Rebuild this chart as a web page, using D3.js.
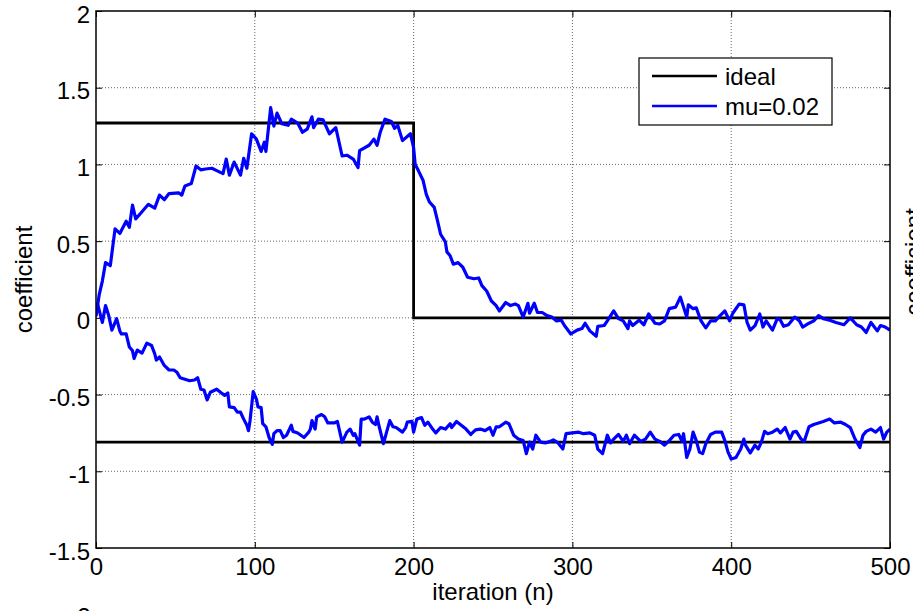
<!DOCTYPE html>
<html>
<head>
<meta charset="utf-8">
<script src="https://cdn.jsdelivr.net/npm/d3@7"></script>
<style>
  body { margin: 0; background: #fff; }
  text { font-family: "Liberation Sans", Arial, sans-serif; fill: #000; }
</style>
</head>
<body>
<div id="chart"></div>
<script>
// axis ticks
var xTicks = [0, 100, 200, 300, 400, 500];
var yTicks = [-1.5, -1, -0.5, 0, 0.5, 1, 1.5, 2];

// ideal coefficients (step at n = 200)
var idealN = [0, 200, 200, 500];
var idealW1 = [1.27, 1.27, 0, 0];
var idealW2 = [-0.81, -0.81, -0.81, -0.81];

// adaptive estimate, mu = 0.02  ([iteration, value])
var estW1 = [[0,0.01],[2,0.15],[4,0.24],[6,0.36],[9,0.34],[12,0.58],[15,0.55],[19,0.63],[21,0.59],[23,0.735],[25,0.645],[28,0.68],[33,0.74],[37,0.715],[40,0.80],[43,0.77],[46,0.81],[52,0.815],[54,0.80],[56,0.86],[60,0.875],[63,0.99],[66,0.965],[69,0.97],[73,0.975],[76,0.96],[80,0.94],[82,1.035],[84,0.93],[87,1.015],[91,0.93],[93,1.04],[95,0.975],[98,1.20],[101,1.165],[104,1.085],[106,1.145],[107,1.085],[110,1.37],[112,1.25],[114,1.335],[117,1.265],[121,1.255],[123,1.295],[127,1.27],[130,1.21],[133,1.23],[136,1.31],[137,1.24],[140,1.295],[143,1.29],[147,1.20],[151,1.24],[155,1.055],[158,1.06],[162,1.035],[165,0.98],[166,1.09],[172,1.125],[175,1.165],[177,1.125],[179,1.21],[182,1.295],[186,1.28],[188,1.235],[190,1.255],[193,1.155],[198,1.20],[200,1.11],[201,1.00],[203,0.96],[206,0.895],[208,0.805],[210,0.755],[213,0.72],[215,0.635],[217,0.545],[220,0.495],[221,0.43],[223,0.405],[225,0.35],[228,0.36],[231,0.33],[234,0.265],[238,0.255],[241,0.26],[243,0.21],[246,0.175],[249,0.11],[252,0.08],[254,0.045],[258,0.10],[261,0.08],[264,0.09],[266,0.08],[269,0.005],[272,0.095],[273,0.03],[276,0.095],[278,0.035],[281,0.035],[284,0.015],[287,0.005],[290,-0.02],[293,-0.015],[295,-0.05],[299,-0.105],[303,-0.08],[306,-0.07],[308,-0.035],[311,-0.085],[315,-0.12],[316,-0.055],[320,-0.05],[322,-0.02],[326,0.045],[329,-0.005],[332,-0.02],[335,-0.07],[336,-0.02],[338,-0.05],[342,-0.015],[345,-0.045],[348,0.025],[352,-0.035],[355,-0.04],[358,-0.02],[361,0.06],[365,0.07],[368,0.135],[370,0.07],[372,0.005],[373,0.085],[376,0.06],[378,0.065],[381,-0.02],[384,-0.065],[387,-0.02],[390,-0.02],[393,0.015],[396,0.045],[399,-0.02],[401,0.03],[405,0.09],[408,0.085],[410,-0.03],[412,-0.08],[415,-0.05],[418,0.025],[420,-0.06],[422,-0.02],[426,-0.08],[429,-0.005],[431,-0.015],[433,-0.055],[436,-0.045],[440,0.005],[443,-0.02],[445,-0.06],[449,-0.035],[452,-0.02],[455,0.015],[458,-0.005],[462,-0.015],[466,-0.03],[471,-0.045],[475,0],[479,-0.045],[482,-0.06],[485,-0.095],[488,-0.03],[492,-0.085],[494,-0.05],[497,-0.06],[500,-0.08]];

var estW2 = [[0,0.025],[1,0.09],[4,-0.03],[6,0.08],[8,0.015],[10,-0.08],[13,-0.005],[15,-0.085],[16,-0.105],[19,-0.105],[21,-0.19],[23,-0.215],[24,-0.265],[26,-0.21],[29,-0.23],[32,-0.165],[35,-0.18],[37,-0.235],[38,-0.275],[40,-0.255],[43,-0.31],[46,-0.34],[49,-0.34],[51,-0.355],[53,-0.39],[56,-0.40],[59,-0.41],[62,-0.405],[64,-0.39],[66,-0.465],[68,-0.47],[70,-0.535],[72,-0.485],[76,-0.465],[79,-0.49],[81,-0.505],[83,-0.49],[84,-0.58],[87,-0.585],[89,-0.615],[91,-0.615],[93,-0.66],[95,-0.70],[96,-0.735],[97,-0.67],[99,-0.48],[101,-0.53],[102,-0.58],[104,-0.585],[105,-0.69],[107,-0.71],[109,-0.78],[111,-0.825],[112,-0.755],[114,-0.735],[116,-0.735],[118,-0.78],[120,-0.765],[123,-0.70],[124,-0.74],[127,-0.75],[131,-0.78],[134,-0.745],[135,-0.725],[136,-0.67],[138,-0.725],[139,-0.645],[142,-0.63],[144,-0.645],[146,-0.685],[150,-0.685],[152,-0.675],[155,-0.81],[158,-0.745],[160,-0.725],[162,-0.765],[163,-0.755],[166,-0.83],[167,-0.66],[169,-0.66],[172,-0.645],[174,-0.68],[176,-0.695],[177,-0.645],[178,-0.695],[181,-0.82],[183,-0.745],[185,-0.67],[187,-0.71],[189,-0.715],[193,-0.745],[195,-0.715],[196,-0.68],[199,-0.675],[200,-0.745],[202,-0.66],[205,-0.65],[207,-0.70],[209,-0.68],[212,-0.725],[214,-0.75],[217,-0.715],[220,-0.725],[223,-0.69],[224,-0.715],[227,-0.675],[230,-0.70],[233,-0.725],[236,-0.76],[239,-0.73],[242,-0.725],[245,-0.735],[248,-0.715],[250,-0.765],[252,-0.71],[254,-0.71],[258,-0.68],[260,-0.69],[263,-0.765],[266,-0.79],[269,-0.80],[271,-0.885],[273,-0.81],[275,-0.855],[277,-0.765],[280,-0.81],[283,-0.815],[286,-0.805],[288,-0.795],[291,-0.815],[294,-0.855],[296,-0.755],[300,-0.75],[304,-0.745],[307,-0.755],[311,-0.75],[314,-0.765],[316,-0.855],[319,-0.885],[322,-0.765],[324,-0.815],[326,-0.79],[329,-0.76],[332,-0.805],[334,-0.765],[336,-0.82],[339,-0.765],[343,-0.805],[346,-0.79],[349,-0.745],[352,-0.79],[355,-0.805],[358,-0.83],[361,-0.80],[364,-0.765],[367,-0.76],[369,-0.805],[370,-0.755],[372,-0.91],[374,-0.855],[376,-0.745],[378,-0.80],[380,-0.875],[382,-0.885],[384,-0.82],[387,-0.76],[390,-0.745],[394,-0.745],[396,-0.80],[398,-0.875],[400,-0.92],[403,-0.91],[406,-0.855],[408,-0.79],[409,-0.83],[412,-0.88],[415,-0.83],[417,-0.855],[419,-0.81],[421,-0.74],[423,-0.755],[426,-0.745],[429,-0.725],[431,-0.75],[434,-0.715],[437,-0.79],[439,-0.745],[441,-0.74],[444,-0.79],[446,-0.805],[449,-0.71],[452,-0.695],[455,-0.685],[458,-0.675],[462,-0.66],[465,-0.685],[469,-0.68],[472,-0.695],[475,-0.715],[478,-0.79],[481,-0.845],[483,-0.765],[485,-0.74],[488,-0.725],[491,-0.745],[494,-0.715],[496,-0.79],[498,-0.745],[500,-0.725]];

var legendLabels = ["ideal", "mu=0.02"];
var legendColors = ["#000000", "#0000ff"];

// set the dimensions and margins of the graph
var margin = { top: 11, right: 23, bottom: 63, left: 96 },
    width = 913 - margin.left - margin.right,
    height = 611 - margin.top - margin.bottom;

var root = d3.select("#chart")
    .append("svg")
    .attr("width", 913)
    .attr("height", 611);

var svg = root.append("g")
    .attr("transform", "translate(" + margin.left + "," + margin.top + ")");

var x = d3.scaleLinear().domain([0, 500]).range([0, width]);
var y = d3.scaleLinear().domain([-1.5, 2]).range([height, 0]);

svg.append("defs").append("clipPath").attr("id", "plotclip")
    .append("rect").attr("width", width).attr("height", height);

// grid
svg.append("g").selectAll("line").data(xTicks.slice(1, -1)).enter().append("line")
    .attr("x1", d => x(d)).attr("x2", d => x(d))
    .attr("y1", 0).attr("y2", height)
    .attr("stroke", "#666").attr("stroke-width", 1).attr("stroke-dasharray", "1,2");
svg.append("g").selectAll("line").data(yTicks.slice(1, -1)).enter().append("line")
    .attr("x1", 0).attr("x2", width)
    .attr("y1", d => y(d)).attr("y2", d => y(d))
    .attr("stroke", "#666").attr("stroke-width", 1).attr("stroke-dasharray", "1,2");

// axes (MATLAB style: ticks inward on all four sides)
function styleAxis(g) {
    g.select(".domain").remove();
    g.selectAll(".tick line").attr("stroke", "#000");
    g.selectAll(".tick text").attr("font-size", "24px").attr("fill", "#000")
        .attr("font-family", "'Liberation Sans', Arial, sans-serif");
}
var plain = function (d) { return String(d) };
svg.append("g")
    .attr("transform", "translate(0," + height + ")")
    .call(d3.axisBottom(x).tickValues(xTicks).tickSize(-6).tickPadding(10).tickFormat(plain))
    .call(styleAxis);
svg.append("g")
    .call(d3.axisTop(x).tickValues(xTicks).tickSize(-6).tickFormat(""))
    .call(styleAxis);
svg.append("g")
    .call(d3.axisLeft(y).tickValues(yTicks).tickSize(-6).tickPadding(6).tickFormat(plain))
    .call(styleAxis)
    .selectAll(".tick text").attr("dy", "0.46em");
svg.append("g")
    .attr("transform", "translate(" + width + ",0)")
    .call(d3.axisRight(y).tickValues(yTicks).tickSize(-6).tickFormat(""))
    .call(styleAxis);

// ideal lines
var lineIdx = d3.line()
    .x(function (d, i) { return x(idealN[i]) })
    .y(function (d) { return y(d) });
var plot = svg.append("g").attr("clip-path", "url(#plotclip)");
plot.append("path").datum(idealW1)
    .attr("fill", "none").attr("stroke", "#000").attr("stroke-width", 2.8)
    .attr("d", lineIdx);
plot.append("path").datum(idealW2)
    .attr("fill", "none").attr("stroke", "#000").attr("stroke-width", 2.8)
    .attr("d", lineIdx);

// estimates
var lineEst = d3.line()
    .x(function (d) { return x(d[0]) })
    .y(function (d) { return y(d[1]) });
[estW1, estW2].forEach(function (s) {
    plot.append("path").datum(s)
        .attr("fill", "none").attr("stroke", "#0000ff").attr("stroke-width", 3.2)
        .attr("stroke-linejoin", "round")
        .attr("d", lineEst);
});

// box
svg.append("rect").attr("width", width).attr("height", height)
    .attr("fill", "none").attr("stroke", "#000").attr("stroke-width", 1.5);

// axis labels
svg.append("text")
    .attr("text-anchor", "middle")
    .attr("x", width / 2)
    .attr("y", height + 52)
    .attr("font-size", "24px")
    .text("iteration (n)");
svg.append("text")
    .attr("text-anchor", "middle")
    .attr("transform", "rotate(-90)")
    .attr("x", -height / 2)
    .attr("y", -margin.left + 32)
    .attr("font-size", "24px")
    .text("coefficient");

// legend
var lg = svg.append("g").attr("transform", "translate(" + (639 - margin.left) + "," + (58 - margin.top) + ")");
lg.append("rect").attr("width", 193).attr("height", 67)
    .attr("fill", "#fff").attr("stroke", "#000").attr("stroke-width", 1.2);
legendLabels.forEach(function (lab, i) {
    lg.append("line").attr("x1", 13).attr("x2", 78)
        .attr("y1", 18 + i * 30).attr("y2", 18 + i * 30)
        .attr("stroke", legendColors[i]).attr("stroke-width", 2.6);
    lg.append("text").attr("x", 86).attr("y", 27 + i * 30)
        .attr("font-size", "24px").text(lab);
});

// parts of the neighbouring figure cut off by the frame
root.append("text")
    .attr("text-anchor", "middle")
    .attr("transform", "translate(922,262) rotate(-90)")
    .attr("font-size", "24px")
    .text("coefficient");
root.append("text")
    .attr("text-anchor", "middle")
    .attr("x", 84).attr("y", 625)
    .attr("font-size", "24px")
    .text("2");
</script>
</body>
</html>
